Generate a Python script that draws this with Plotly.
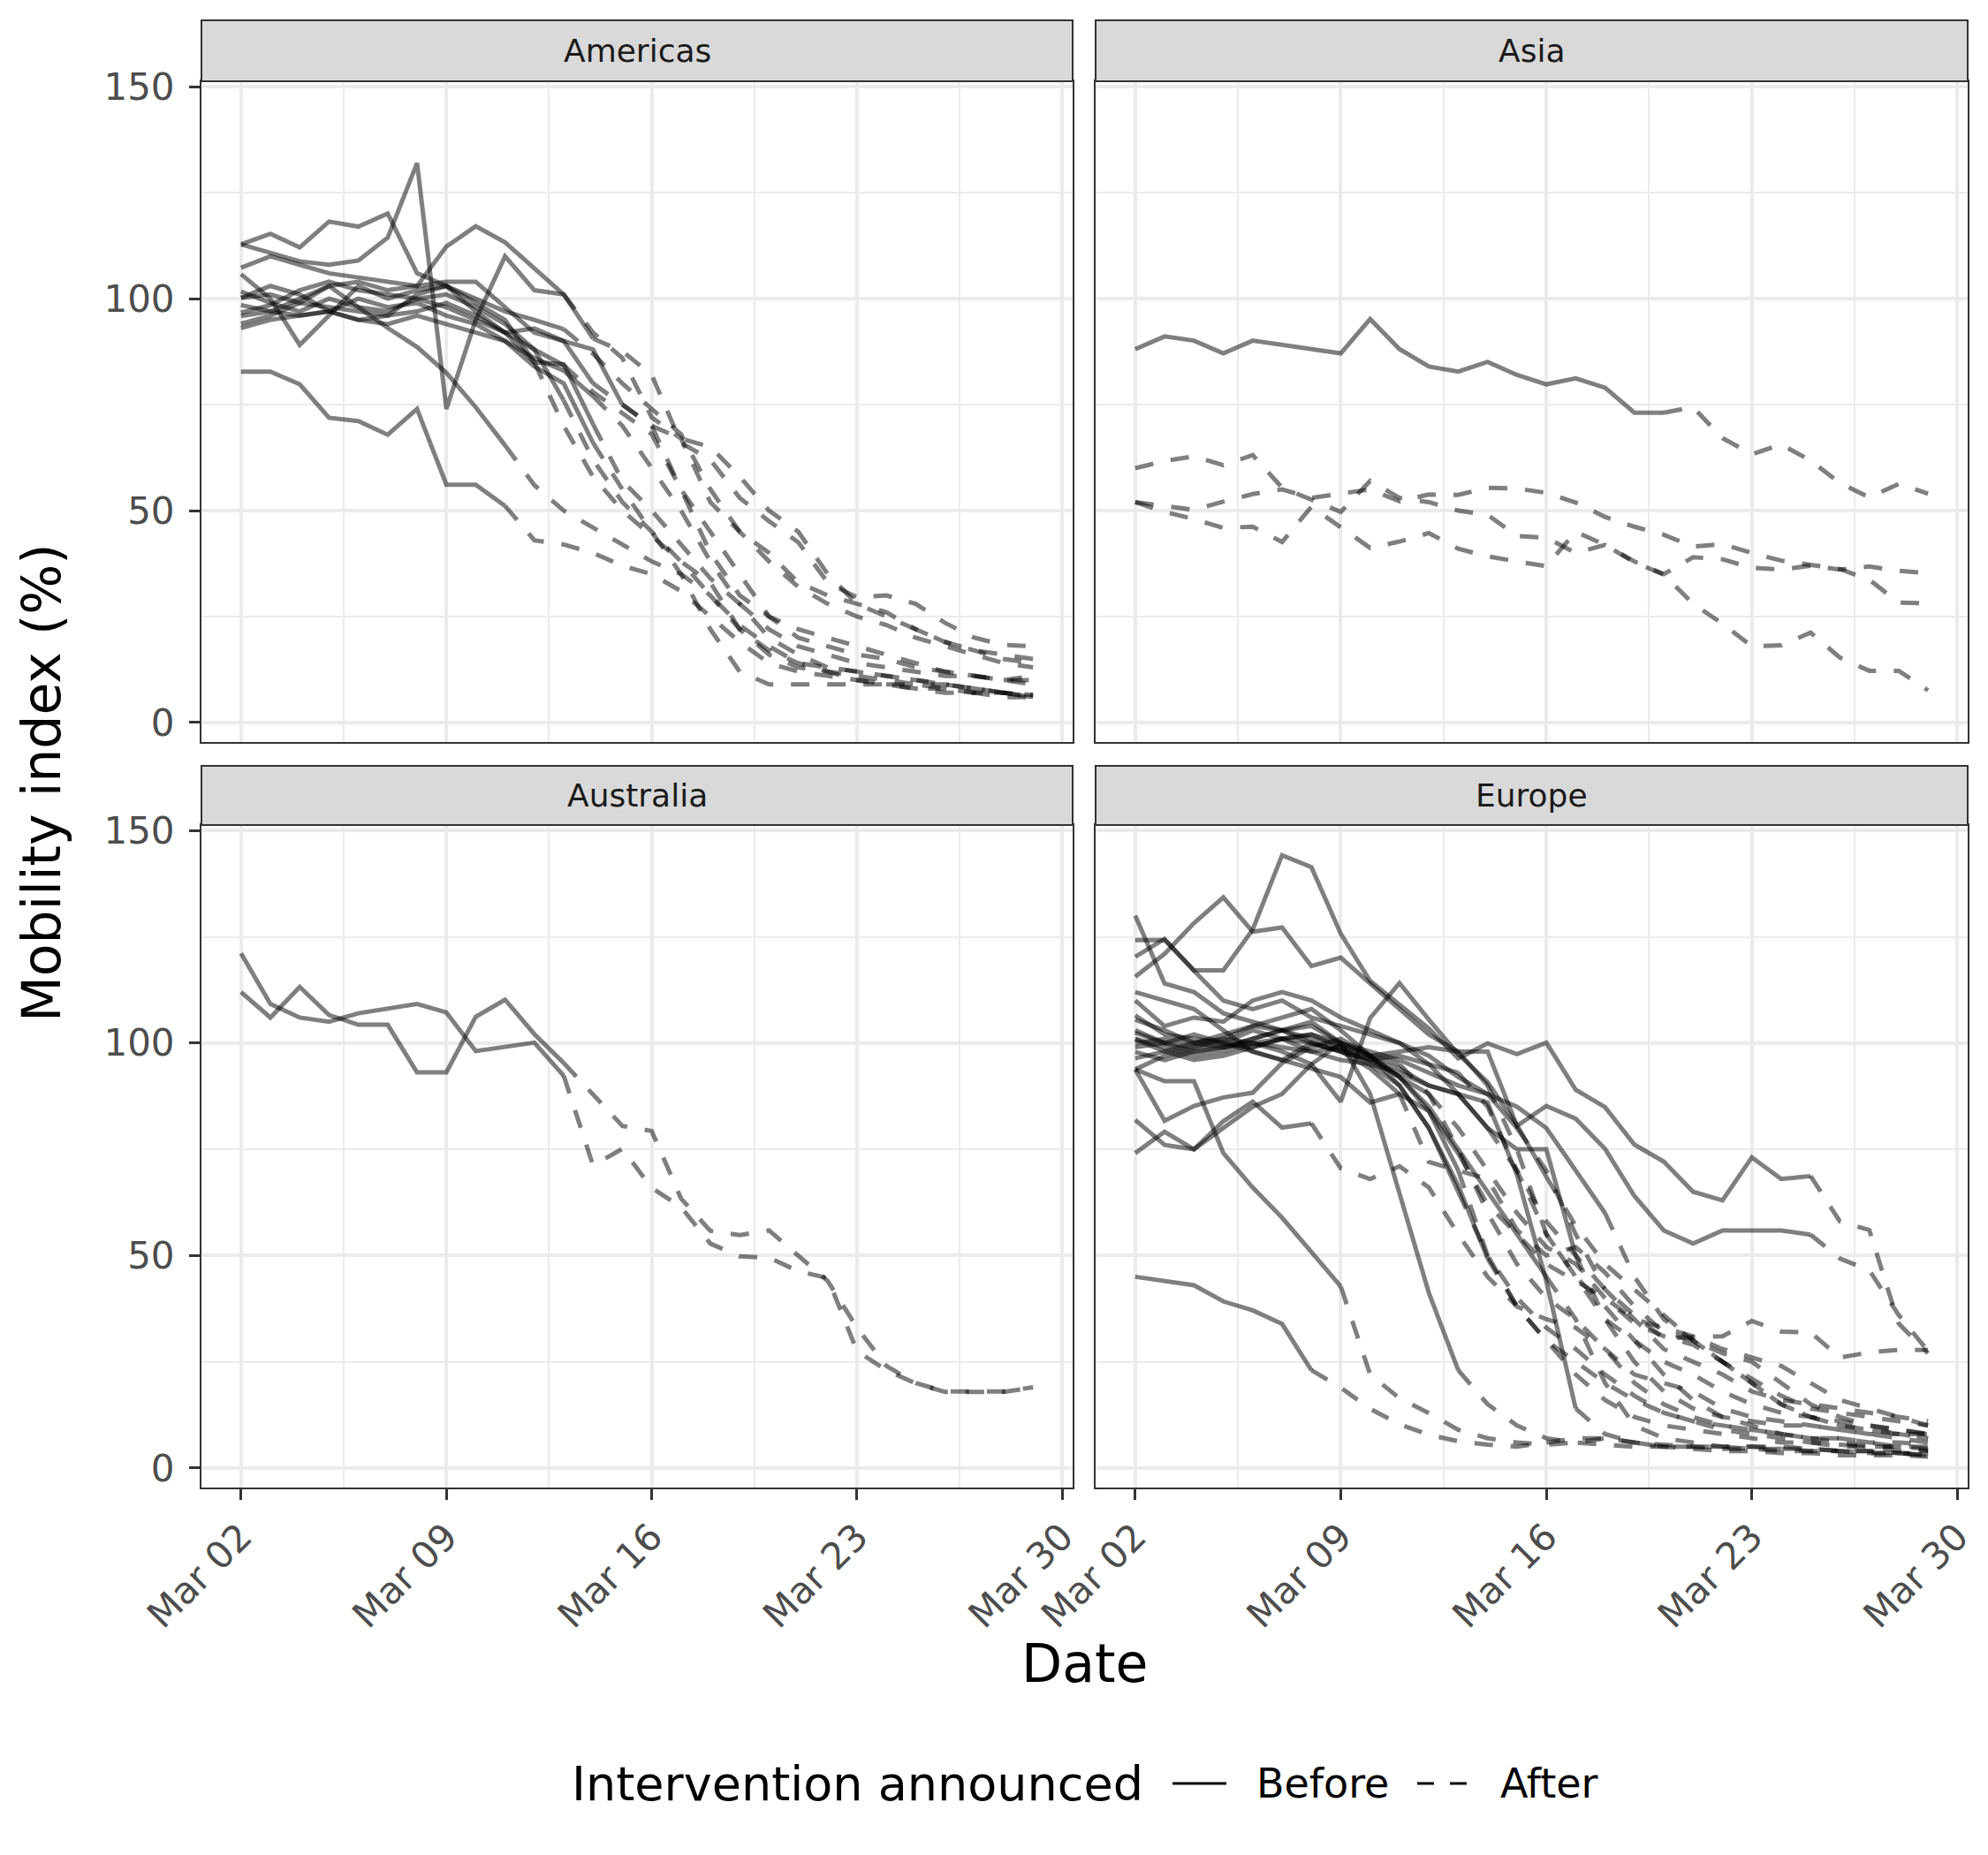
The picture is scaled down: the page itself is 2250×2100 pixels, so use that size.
import plotly.graph_objects as go
from datetime import datetime, timedelta

# ---------------- data (days: Mar 02 .. Mar 29, 2020) ----------------
start = datetime(2020, 3, 2)
dates = [(start + timedelta(days=i)).strftime("%Y-%m-%d") for i in range(28)]

# Americas (values, index of the day the intervention was announced)
am_1 = [112.8,115.3,112.1,118.2,117.0,120.1,106.0,103.0,100.0,97.0,95.0,92.8,87.0,80.0,74.0,68.0,55.0,45.0,40.0,33.0,30.0,28.0,26.0,22.0,19.0,17.0,16.0,15.0]
am_2 = [112.8,110.8,108.8,108.0,109.0,114.4,132.0,74.0,95.0,110.0,102.0,101.0,90.6,87.6,82.0,66.0,62.0,53.0,47.5,42.5,33.0,29.5,30.0,28.0,23.5,20.0,18.3,18.0]
am_3 = [107.3,110.0,108.0,106.0,105.0,104.0,103.0,112.3,117.1,113.3,107.1,101.0,92.0,86.0,72.0,67.0,52.0,45.0,38.0,32.0,28.0,25.0,23.0,20.0,18.0,16.0,14.0,13.0]
am_4 = [105.8,100.0,89.1,96.0,103.0,100.0,102.0,103.0,97.0,92.0,88.0,84.3,78.0,73.0,68.0,55.0,40.0,30.0,25.0,22.0,20.0,18.0,16.0,14.0,12.0,11.0,10.0,9.0]
am_5 = [101.7,99.0,97.0,100.0,98.0,93.1,88.6,82.5,74.4,65.4,56.0,50.0,46.0,42.0,38.0,35.0,30.0,22.0,16.0,13.0,12.0,11.0,10.0,9.0,9.0,8.0,7.0,6.0]
am_6 = [82.8,82.8,79.8,71.9,71.1,67.9,74.0,56.1,56.1,51.1,43.0,42.0,40.0,37.0,35.0,31.0,25.0,19.0,14.0,12.0,11.0,10.0,9.0,9.0,8.0,7.0,7.0,6.5]
am_7 = [100.2,101.0,99.0,98.0,97.0,96.0,97.0,99.0,96.0,92.0,85.0,84.5,70.4,57.0,50.0,42.0,34.0,28.0,20.0,16.0,13.0,12.0,11.0,10.0,9.0,8.0,7.0,6.5]
am_8 = [98.5,97.0,96.0,97.0,100.0,98.0,99.0,96.0,94.0,90.0,84.0,80.0,66.0,55.0,45.0,35.0,22.0,12.0,9.0,9.0,9.0,9.0,9.0,8.0,7.0,7.0,6.0,6.0]
am_9 = [96.7,98.5,102.0,104.0,102.0,101.0,100.0,98.0,95.0,92.0,93.0,90.0,80.0,75.0,70.0,55.0,45.0,35.0,25.0,20.0,18.0,16.0,15.0,13.0,12.0,11.0,10.0,11.0]
am_10 = [95.9,97.0,100.0,103.0,98.0,97.0,100.0,101.0,98.0,94.0,88.0,76.0,62.0,52.0,45.0,38.0,30.0,23.0,18.0,14.0,13.0,12.0,11.0,10.0,9.0,8.0,7.0,6.0]
am_11 = [94.1,96.0,99.0,103.0,104.0,102.0,103.0,104.0,104.0,98.0,92.0,90.0,88.0,75.0,70.0,67.0,65.0,58.0,50.0,45.0,35.0,28.0,25.0,22.0,19.0,17.0,15.0,14.0]
am_12 = [93.1,95.0,96.0,97.0,95.0,94.0,96.0,94.0,92.0,90.0,86.0,83.0,77.0,70.0,60.0,50.0,38.0,28.0,22.0,18.0,16.0,14.0,13.0,12.0,11.0,11.0,10.0,10.0]
am_13 = [100.2,103.0,101.0,97.0,95.0,96.0,101.0,103.0,99.0,95.0,85.0,70.0,58.0,50.0,44.0,38.0,33.0,22.0,17.0,14.0,12.0,10.0,9.0,8.0,8.0,7.0,7.0,6.0]
americas_series = [am_1, am_2, am_3, am_4, am_5, am_6, am_7, am_8, am_9, am_10, am_11, am_12, am_13]
americas_cuts = [11, 12, 11, 11, 9, 9, 12, 12, 12, 11, 13, 12, 10]

# Asia
as_a = [88.1,91.1,90.1,87.1,90.1,None,None,87.1,95.2,88.1,84.0,82.8,85.1,82.0,79.8,81.2,79.0,73.1,73.1,74.4,67.1,63.3,65.6,61.8,56.5,53.1,56.3,54.0]
as_b = [60.0,61.7,62.8,60.7,63.1,55.4,52.6,49.7,57.0,53.0,52.0,50.0,49.0,44.0,43.6,40.0,41.9,38.0,35.0,39.0,38.5,36.5,36.1,37.0,36.1,36.8,35.8,35.2]
as_c = [52.0,51.0,50.2,52.1,53.9,55.0,53.0,54.0,55.0,52.2,53.8,53.7,55.4,55.2,54.2,51.9,48.5,46.2,44.3,41.5,42.1,40.0,38.2,37.2,36.2,33.7,28.3,28.1]
as_d = [52.0,49.7,48.0,45.9,46.2,42.6,50.9,46.1,41.2,42.7,44.7,41.0,39.2,38.0,36.9,45.0,41.9,37.8,34.9,28.0,23.3,18.0,18.2,21.2,15.3,12.2,12.2,7.6]
asia_series = [as_a, as_b, as_c, as_d]
asia_cuts = [18, 0, 0, 0]

# Australia
au_1 = [121.1,109.2,106.0,105.0,107.0,108.0,109.2,107.2,98.1,99.1,100.1,92.3,71.2,75.1,65.9,61.4,52.8,49.8,49.5,46.3,44.7,27.5,23.0,19.9,17.9,17.9,17.9,18.9]
au_2 = [112.0,106.0,113.2,106.6,104.3,104.3,93.1,93.1,106.2,110.2,102.1,95.3,88.0,80.5,79.3,63.4,55.8,54.8,55.9,50.0,44.0,33.0,24.0,20.0,18.0,18.0,18.0,19.0]
australia_series = [au_1, au_2]
australia_cuts = [11, 11]

# Europe
eu_1 = [124.2,124.2,117.1,117.1,126.7,144.2,141.4,125.7,114.6,109.0,103.4,96.4,99.9,97.4,100.1,89.0,84.9,76.1,72.1,65.0,63.0,73.1,68.0,68.7,58.0,56.0,34.0,27.0]
eu_2 = [103.0,100.0,98.0,99.0,101.0,103.0,105.0,100.0,97.0,98.0,99.0,98.0,98.0,80.5,85.2,82.2,75.1,64.0,55.9,52.8,55.9,55.9,55.9,54.9,49.3,46.5,36.0,27.5]
eu_3 = [93.8,91.0,91.0,74.1,66.0,58.9,50.8,42.7,22.0,16.4,12.9,9.0,7.0,6.0,5.5,6.0,7.0,6.0,5.0,4.5,4.0,4.0,3.5,3.5,3.0,3.0,3.0,2.7]
eu_4 = [45.0,44.0,43.0,39.2,37.1,33.9,23.0,18.9,13.9,10.3,7.8,6.3,5.5,5.0,6.0,7.0,7.0,6.0,5.5,5.0,5.0,4.5,4.5,4.0,4.0,3.5,3.5,3.0]
eu_5 = [74.1,79.1,75.0,81.6,86.2,80.1,81.1,70.5,68.0,71.0,66.0,55.0,45.0,38.0,35.0,33.0,28.0,22.0,20.0,18.0,14.0,12.0,11.0,10.0,9.0,8.0,7.0,6.0]
eu_6 = [93.8,81.7,85.2,87.2,88.3,95.3,99.0,101.0,97.0,95.0,88.0,75.0,60.0,48.0,40.0,35.0,28.0,20.0,15.0,12.0,10.0,9.0,8.0,7.0,7.0,6.0,5.0,5.0]
eu_7 = [130.0,114.0,112.0,107.0,105.0,103.0,101.0,99.0,96.0,97.0,95.0,93.0,85.0,70.0,55.0,45.0,35.0,30.0,25.0,22.0,18.0,15.0,13.0,12.0,11.0,10.0,9.0,8.0]
eu_8 = [115.6,121.0,128.2,134.3,126.2,127.2,118.1,120.1,114.0,108.0,102.0,98.0,90.0,75.0,55.0,45.0,38.0,30.0,22.0,16.0,12.0,10.0,8.0,7.0,6.0,5.0,5.0,4.0]
eu_9 = [120.3,124.5,117.0,110.0,108.0,110.0,106.0,104.0,102.0,100.0,97.0,92.0,88.0,80.0,70.0,55.0,42.0,35.0,28.0,25.0,22.0,18.0,16.0,15.0,14.0,13.0,12.0,11.0]
eu_10 = [101.0,99.0,97.0,98.0,100.0,98.0,95.0,86.2,105.9,114.1,105.5,97.4,90.8,80.7,68.5,57.0,48.0,42.0,36.0,30.0,25.0,20.0,15.0,12.0,10.0,9.0,8.0,7.0]
eu_11 = [105.5,103.0,100.0,102.0,104.0,106.0,108.0,103.0,97.0,90.0,80.0,65.0,50.0,38.0,30.0,22.0,16.0,12.0,10.0,9.0,8.0,7.0,6.0,6.0,5.0,5.0,4.0,4.0]
eu_12 = [102.4,100.0,99.0,101.0,104.0,103.0,104.0,100.0,88.0,65.0,41.2,23.0,15.0,10.0,7.0,6.0,5.5,5.0,5.0,5.0,4.5,4.5,4.0,4.0,4.0,3.5,3.5,3.0]
eu_13 = [100.9,98.0,96.0,97.0,99.0,101.0,102.0,99.0,95.0,90.0,80.0,66.5,49.3,38.0,30.0,25.0,20.0,16.0,13.0,11.0,10.0,9.0,8.0,7.0,7.0,6.0,6.0,5.5]
eu_14 = [99.9,101.0,100.0,99.0,101.0,103.0,100.0,98.0,96.0,94.0,90.0,88.0,80.0,75.0,75.0,50.0,35.0,25.0,18.0,14.0,12.0,11.0,10.0,10.0,9.0,8.0,8.0,7.0]
eu_15 = [97.9,96.0,98.0,99.0,100.0,101.0,102.0,100.0,98.0,96.0,93.0,90.0,88.0,85.0,80.0,70.0,60.0,45.0,35.0,30.0,25.0,20.0,15.0,12.0,10.0,9.0,8.0,8.0]
eu_16 = [96.4,98.0,100.0,101.0,100.0,99.0,98.0,99.0,97.0,92.0,85.0,75.0,65.0,55.0,45.0,35.0,20.0,10.0,7.0,6.0,5.0,5.0,5.0,4.5,4.0,4.0,3.5,3.0]
eu_17 = [93.8,97.0,99.0,100.0,103.0,101.0,98.0,96.0,95.0,93.0,90.0,88.0,86.0,69.0,44.0,14.0,8.0,6.0,5.0,5.0,5.0,5.0,4.5,4.5,4.0,4.0,3.5,3.5]
eu_18 = [110.0,104.0,106.0,105.0,110.0,112.0,110.0,106.0,103.0,100.0,95.0,88.0,80.0,70.0,58.0,50.0,42.0,36.0,30.5,30.8,31.0,34.6,32.1,31.9,26.0,27.2,27.8,27.8]
eu_19 = [81.9,76.0,75.0,80.0,85.0,88.0,95.0,100.0,97.0,92.0,84.0,74.0,62.0,55.0,48.0,44.0,40.0,35.0,33.0,31.0,28.0,26.0,24.0,20.0,16.0,14.0,12.0,10.0]
eu_20 = [112.0,110.0,108.0,103.0,98.0,96.0,100.0,98.0,94.0,88.0,72.0,70.0,68.0,56.0,50.0,52.0,46.0,38.0,32.0,30.0,27.0,25.0,20.0,15.0,12.0,10.0,9.0,8.0]
eu_21 = [106.5,102.0,101.0,100.0,99.0,101.0,100.0,98.0,96.0,92.0,88.0,80.0,70.0,60.0,52.0,48.0,40.0,34.0,31.0,29.0,25.0,21.0,17.0,14.0,13.0,12.0,11.0,10.0]
eu_22 = [99.0,100.0,102.0,100.0,98.0,96.0,94.0,92.0,86.0,88.0,84.0,70.0,50.0,40.0,33.0,28.0,22.0,17.0,13.0,11.0,9.0,8.0,7.0,6.0,5.5,5.0,5.0,4.5]
europe_series = [eu_1, eu_2, eu_3, eu_4, eu_5, eu_6, eu_7, eu_8, eu_9, eu_10, eu_11,
                 eu_12, eu_13, eu_14, eu_15, eu_16, eu_17, eu_18, eu_19, eu_20, eu_21, eu_22]
europe_cuts = [23, 23, 7, 6, 6, 9, 11, 12, 13, 14, 11, 11, 12, 15, 16, 14, 15, 12, 11, 9, 10, 11]

panel_names = ["Americas", "Asia", "Australia", "Europe"]
y_ticks = [0, 50, 100, 150]
legend_title = "Intervention announced"
legend_labels = ["Before", "After"]

# ---------------- layout geometry (pixels) ----------------
W, H = 2250, 2100
def fx(p): return p / W
def fy(p): return 1 - p / H

panels = [
    dict(name=panel_names[0], xs=(228, 1214), ys=(92, 840), strip=(23, 92), sfx="", series=americas_series, cuts=americas_cuts, left=True, bottom=False),
    dict(name=panel_names[1], xs=(1240, 2227), ys=(92, 840), strip=(23, 92), sfx="2", series=asia_series, cuts=asia_cuts, left=False, bottom=False),
    dict(name=panel_names[2], xs=(228, 1214), ys=(934, 1684), strip=(867, 934), sfx="3", series=australia_series, cuts=australia_cuts, left=True, bottom=True),
    dict(name=panel_names[3], xs=(1240, 2227), ys=(934, 1684), strip=(867, 934), sfx="4", series=europe_series, cuts=europe_cuts, left=False, bottom=True),
]

LINE_COL = "rgba(0,0,0,0.5)"
LW = 5
DASH = "21px,20px"
FONT = "DejaVu Sans"

fig = go.Figure()

for p in panels:
    xa = "x" + p["sfx"]
    ya = "y" + p["sfx"]
    for vals, cut in zip(p["series"], p["cuts"]):
        if cut > 0:
            fig.add_trace(go.Scatter(x=dates[:cut + 1], y=vals[:cut + 1], mode="lines",
                                     line=dict(color=LINE_COL, width=LW),
                                     connectgaps=True, xaxis=xa, yaxis=ya,
                                     showlegend=False, hoverinfo="skip"))
        fig.add_trace(go.Scatter(x=dates[cut:], y=vals[cut:], mode="lines",
                                 line=dict(color=LINE_COL, width=LW, dash=DASH),
                                 connectgaps=True, xaxis=xa, yaxis=ya,
                                 showlegend=False, hoverinfo="skip"))

x0 = (start - timedelta(days=1.35)).strftime("%Y-%m-%d %H:%M:%S")
x1 = (start + timedelta(days=27 + 1.35)).strftime("%Y-%m-%d %H:%M:%S")
WEEK = 7 * 86400000

layout = dict(
    width=W, height=H,
    margin=dict(l=0, r=0, t=0, b=0, pad=0, autoexpand=False),
    paper_bgcolor="white", plot_bgcolor="white",
    showlegend=False,
    font=dict(family=FONT),
)

shapes = []
annotations = []
for p in panels:
    xk = "xaxis" + p["sfx"]
    yk = "yaxis" + p["sfx"]
    layout[xk] = dict(
        type="date", range=[x0, x1], automargin=False,
        domain=[fx(p["xs"][0]), fx(p["xs"][1])],
        anchor="y" + p["sfx"],
        tick0="2020-03-02", dtick=WEEK, tickformat="%b %d",
        showgrid=True, gridcolor="#EBEBEB", gridwidth=3.5,
        minor=dict(tick0="2020-03-05 12:00", dtick=WEEK, showgrid=True,
                   gridcolor="#EBEBEB", gridwidth=1.8),
        showline=True, mirror=True, linecolor="#333333", linewidth=2,
        zeroline=False,
        ticks="outside" if p["bottom"] else "", ticklen=12, tickwidth=2.5, tickcolor="#333333",
        showticklabels=p["bottom"], tickangle=-45,
        tickfont=dict(family=FONT, size=42, color="#4D4D4D"),
    )
    layout[yk] = dict(
        range=[-4.6, 151.3], automargin=False,
        domain=[fy(p["ys"][1]), fy(p["ys"][0])],
        anchor="x" + p["sfx"],
        tickmode="array", tickvals=y_ticks, ticktext=[str(v) for v in y_ticks],
        showgrid=True, gridcolor="#EBEBEB", gridwidth=3.5,
        minor=dict(tickmode="array", tickvals=[25, 75, 125], showgrid=True,
                   gridcolor="#EBEBEB", gridwidth=1.8),
        showline=True, mirror=True, linecolor="#333333", linewidth=2,
        zeroline=False,
        ticks="outside" if p["left"] else "", ticklen=12, tickwidth=2.5, tickcolor="#333333",
        showticklabels=p["left"], ticklabelstandoff=8,
        tickfont=dict(family=FONT, size=42, color="#4D4D4D"),
    )
    # strip
    shapes.append(dict(type="rect", xref="paper", yref="paper",
                       x0=fx(p["xs"][0]), x1=fx(p["xs"][1]),
                       y0=fy(p["strip"][1]), y1=fy(p["strip"][0]),
                       fillcolor="#D9D9D9", line=dict(color="#333333", width=2), layer="above"))
    annotations.append(dict(text=p["name"], xref="paper", yref="paper",
                            x=fx((p["xs"][0] + p["xs"][1]) / 2), y=fy((p["strip"][0] + p["strip"][1]) / 2),
                            xanchor="center", yanchor="middle", showarrow=False,
                            font=dict(family=FONT, size=36, color="#1A1A1A")))

# axis titles
annotations.append(dict(text="Date", xref="paper", yref="paper", x=fx(1227), y=fy(1883),
                        xanchor="center", yanchor="middle", showarrow=False,
                        font=dict(family=FONT, size=60, color="black")))
annotations.append(dict(text="Mobility index (%)", xref="paper", yref="paper", x=fx(47), y=fy(886),
                        xanchor="center", yanchor="middle", showarrow=False, textangle=-90,
                        font=dict(family=FONT, size=60, color="black")))

# legend (drawn manually)
LEG_Y = 2019
annotations.append(dict(text=legend_title, xref="paper", yref="paper", x=fx(645), y=fy(LEG_Y),
                        xanchor="left", yanchor="middle", showarrow=False,
                        font=dict(family=FONT, size=54, color="black")))
shapes.append(dict(type="line", xref="paper", yref="paper", x0=fx(1327), x1=fx(1388),
                   y0=fy(LEG_Y), y1=fy(LEG_Y), line=dict(color="black", width=3)))
annotations.append(dict(text=legend_labels[0], xref="paper", yref="paper", x=fx(1420), y=fy(LEG_Y),
                        xanchor="left", yanchor="middle", showarrow=False,
                        font=dict(family=FONT, size=46, color="black")))
shapes.append(dict(type="line", xref="paper", yref="paper", x0=fx(1604), x1=fx(1660),
                   y0=fy(LEG_Y), y1=fy(LEG_Y), line=dict(color="black", width=3, dash="19px,18px")))
annotations.append(dict(text=legend_labels[1], xref="paper", yref="paper", x=fx(1696), y=fy(LEG_Y),
                        xanchor="left", yanchor="middle", showarrow=False,
                        font=dict(family=FONT, size=46, color="black")))

layout["shapes"] = shapes
layout["annotations"] = annotations
fig.update_layout(**layout)
fig.write_html("out.html")
